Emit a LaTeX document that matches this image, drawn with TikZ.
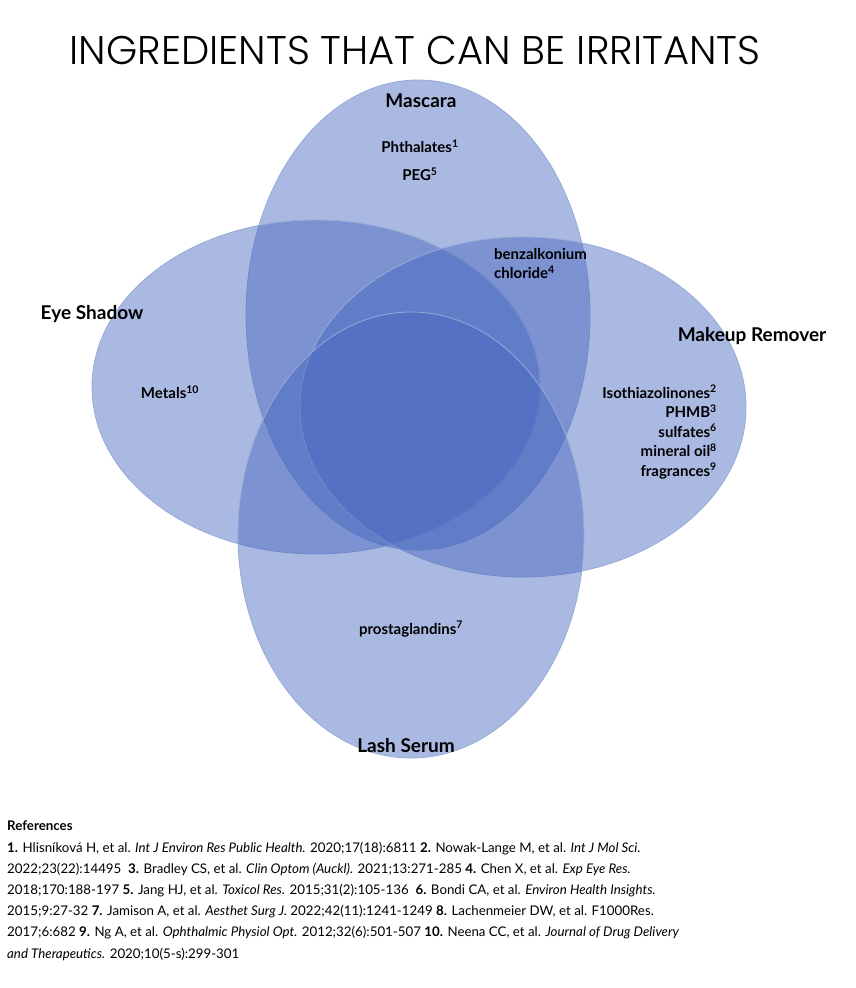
\documentclass[tikz,border=0pt]{standalone}
\usepackage{fontspec}
\setmainfont{Lato}
\newfontfamily\titlefont{Poppins}[UprightFont=* Light]
\begin{document}
\begin{tikzpicture}[x=1pt,y=-1pt,
  venn/.style={fill={rgb,255:red,68;green,100;blue,190},fill opacity=0.45,draw={rgb,255:red,150;green,170;blue,215},line width=0.8pt},
  lab/.style={font=\fontsize{19}{22}\selectfont\bfseries,text=black},
  item/.style={font=\fontsize{15}{19.5}\selectfont\bfseries,text=black,inner sep=0pt}]
\useasboundingbox (0,0) rectangle (856,988);
\fill[white] (0,0) rectangle (856,988);
\path[venn] (418,315) ellipse [x radius=172,y radius=235];
\path[venn] (316,387) ellipse [x radius=224,y radius=167];
\path[venn] (523,407) ellipse [x radius=223,y radius=170];
\path[venn] (411,535) ellipse [x radius=173,y radius=223];
\node[font=\titlefont\fontsize{40}{44}\selectfont] (title) at (415,50) {INGREDIENTS THAT CAN BE IRRITANTS};
\node[lab] (mas) at (421,101) {Mascara};
\node[item] (ph) at (420,146) {Phthalates\textsuperscript{1}};
\node[item] (peg) at (420,174) {PEG\textsuperscript{5}};
\node[item,align=left,anchor=north west] (bz) at (494,248) {benzalkonium\\chloride\textsuperscript{4}};
\node[lab] (es) at (92,314) {Eye Shadow};
\node[item] (met) at (170,392) {Metals\textsuperscript{10}};
\node[lab] (mr) at (752,336) {Makeup Remover};
\node[item,align=right,anchor=north east] (iso) at (717,385) {Isothiazolinones\textsuperscript{2}\\PHMB\textsuperscript{3}\\sulfates\textsuperscript{6}\\mineral oil\textsuperscript{8}\\fragrances\textsuperscript{9}};
\node[item] (pro) at (411,629) {prostaglandins\textsuperscript{7}};
\node[lab] (ls) at (406,746) {Lash Serum};
\node[anchor=north west,align=left,inner sep=0pt,font=\fontsize{13.3}{21.2}\selectfont] (refs) at (7,821) {%
\textbf{References}\\
\textbf{1.} Hlisníková H, et al. \textit{Int J Environ Res Public Health.} 2020;17(18):6811 \textbf{2.} Nowak-Lange M, et al. \textit{Int J Mol Sci.}\\
2022;23(22):14495 \ \textbf{3.} Bradley CS, et al. \textit{Clin Optom (Auckl).} 2021;13:271-285 \textbf{4.} Chen X, et al. \textit{Exp Eye Res.}\\
2018;170:188-197 \textbf{5.} Jang HJ, et al. \textit{Toxicol Res.} 2015;31(2):105-136 \ \textbf{6.} Bondi CA, et al. \textit{Environ Health Insights.}\\
2015;9:27-32 \textbf{7.} Jamison A, et al. \textit{Aesthet Surg J.} 2022;42(11):1241-1249 \textbf{8.} Lachenmeier DW, et al. F1000Res.\\
2017;6:682 \textbf{9.} Ng A, et al. \textit{Ophthalmic Physiol Opt.} 2012;32(6):501-507 \textbf{10.} Neena CC, et al. \textit{Journal of Drug Delivery}\\
\textit{and Therapeutics.} 2020;10(5-s):299-301};
\end{tikzpicture}
\end{document}
